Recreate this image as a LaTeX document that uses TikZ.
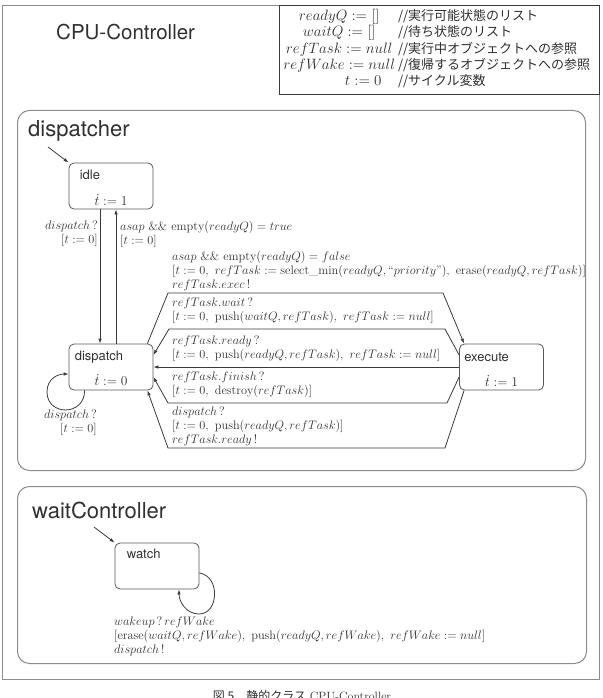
\RequirePackage{fix-cm}
\documentclass[tikz,border=0pt]{standalone}
\usepackage{fontspec}
\setsansfont{TeX Gyre Heros}
\newfontfamily\jpfont{Noto Sans CJK JP}
\usetikzlibrary{arrows.meta,positioning,calc}
\definecolor{scLine}{HTML}{3A3A3A}
\definecolor{scFrame}{HTML}{8C8C8C}
\definecolor{scText}{HTML}{303030}
\tikzset{
  zonebox/.style={draw=scFrame, line width=1pt, rounded corners=12pt, anchor=north west, inner sep=0pt},
  locbox/.style={draw=scLine!85, line width=0.8pt, rounded corners=5pt, minimum width=84pt, minimum height=46pt, inner sep=0pt},
  locname/.style={font=\sffamily\fontsize{13}{15}\selectfont, text=scText, anchor=west, inner sep=0pt},
  locrate/.style={font=\fontsize{13.5}{15}\selectfont, text=scText, inner sep=0pt},
  zonetitle/.style={font=\sffamily\fontsize{22}{24}\selectfont, text=scText, anchor=west, inner sep=0pt},
  guardtxt/.style={font=\fontsize{12.3}{14}\selectfont, text=scText, align=left, inner sep=0pt},
  trans/.style={-{Latex[length=5pt,width=3.5pt]}, draw=scLine, line width=0.8pt},
}
\newcommand{\jpnote}[1]{{\jpfont\fontsize{13}{16.3}\selectfont #1}}
\begin{document}
\begin{tikzpicture}[x=1pt, y=1pt]
  \useasboundingbox (0,0) rectangle (602,-698);
  % outer class frame
  \node[draw=scFrame, line width=1.2pt, anchor=north west, inner sep=0pt, minimum width=597pt, minimum height=674pt] (cpuctrl) at (2,-5) {};
  \node[zonetitle, font=\sffamily\fontsize{20.5}{24}\selectfont] (cputitle) at (56,-32) {CPU-Controller};
  % variables
  \node[draw=scLine, line width=1pt, anchor=north east, inner sep=0pt, minimum width=320pt, minimum height=89pt] (varframe) at (cpuctrl.north east) {};
  \node[anchor=west, inner sep=0pt, text=scText, font=\fontsize{15}{16.3}\selectfont] (vartable) at ([xshift=4pt]varframe.west) {%
    \begin{tabular}{@{}c@{\hspace{3pt}}l@{}}
      $readyQ := []$ & \jpnote{//実行可能状態のリスト}\\
      $waitQ := []$ & \jpnote{//待ち状態のリスト}\\
      $refTask := null$ & \jpnote{//実行中オブジェクトへの参照}\\
      $refWake := null$ & \jpnote{//復帰するオブジェクトへの参照}\\
      \hspace*{48pt}$t := 0$ & \jpnote{//サイクル変数}
    \end{tabular}};

  % dispatcher
  \node[zonebox, minimum width=568pt, minimum height=360pt] (dispatcher) at (17,-110) {};
  \node[zonetitle] (disptitle) at ([shift={(11,-21)}]dispatcher.north west) {dispatcher};
  \node[locbox] (idle) at (111,-186) {};
  \node[locname] at ([shift={(11,11)}]idle.west) {idle};
  \node[locrate] at ([yshift=-14pt]idle.center) {$\dot{t} := 1$};
  \node[locbox] (dispatch) at (111,-367) {};
  \node[locname] at ([shift={(6,10)}]dispatch.west) {dispatch};
  \node[locrate] at ([yshift=-13pt]dispatch.center) {$\dot{t} := 0$};
  \node[locbox] (execute) at (501.5,-367) {};
  \node[locname] at ([shift={(5,10)}]execute.west) {execute};
  \node[locrate] at ([yshift=-14pt]execute.center) {$\dot{t} := 1$};

  \coordinate (idleinit) at (48,-147);
  \draw[trans] (idleinit) -- (idle.north west);
  \draw[trans] ([xshift=-11pt]idle.south) -- ([xshift=-11pt]dispatch.north);
  \draw[trans] ([xshift=5pt]dispatch.north) -- ([xshift=5pt]idle.south);
  \node[guardtxt, anchor=north east, align=right] (lbldisp) at (98,-221) {$dispatch\,?$\\$[t := 0]$};
  \node[guardtxt, anchor=north west] (lblempty) at (120,-221) {$asap\ \&\&\ \mathrm{empty}(readyQ) = true$\\$[t := 0]$};

  \draw[trans] ([xshift=16pt]dispatch.south west) .. controls +(0,-26) and +(0,-24) .. (47,-392)
    .. controls +(0,14) and +(-10,0) .. ([yshift=-7pt]dispatch.west);
  \node[guardtxt, anchor=north east, align=right] (lblloop) at (97,-410) {$dispatch\,?$\\$[t := 0]$};

  \draw[trans] ([xshift=-6pt]dispatch.north east) -- (168,-293) -- (443,-293) -- ([xshift=5pt]execute.north west);
  \node[guardtxt, anchor=north west] (lblexec) at (172,-251) {$asap\ \&\&\ \mathrm{empty}(readyQ) = false$\\
    $[t := 0,\ refTask := \mathrm{select\_min}(readyQ, \mbox{``}priority\mbox{''}),\ \mathrm{erase}(readyQ, refTask)]$\\
    $refTask.exec\,!$};
  \draw[trans] ([yshift=12pt]execute.west) -- (445,-329) -- (169,-329) -- ([yshift=12pt]dispatch.east);
  \node[guardtxt, anchor=north west] (lblwait) at (172,-298) {$refTask.wait\,?$\\
    $[t := 0,\ \mathrm{push}(waitQ, refTask),\ refTask := null]$};
  \draw[trans] (execute.west) -- (dispatch.east);
  \node[guardtxt, anchor=north west] (lblready) at (172,-336) {$refTask.ready\,?$\\
    $[t := 0,\ \mathrm{push}(readyQ, refTask),\ refTask := null]$};
  \draw[trans] ([yshift=-10pt]execute.west) -- (447,-403) -- (168,-403) -- ([yshift=-10pt]dispatch.east);
  \node[guardtxt, anchor=north west] (lblfinish) at (172,-372) {$refTask.finish\,?$\\
    $[t := 0,\ \mathrm{destroy}(refTask)]$};
  \draw[trans] ([xshift=5pt]execute.south west) -- (445,-448) -- (168,-448) -- ([xshift=-6pt]dispatch.south east);
  \node[guardtxt, anchor=north west] (lblresched) at (172,-407) {$dispatch\,?$\\
    $[t := 0,\ \mathrm{push}(readyQ, refTask)]$\\$refTask.ready\,!$};

  % waitController
  \node[zonebox, minimum width=569pt, minimum height=177pt] (waitctrl) at (17,-486) {};
  \node[zonetitle] (waittitle) at ([shift={(15,-24)}]waitctrl.north west) {waitController};
  \node[locbox] (watch) at (157,-566) {};
  \node[locname] at ([shift={(12,12)}]watch.west) {watch};
  \coordinate (watchinit) at (94,-527);
  \draw[trans] (watchinit) -- (watch.north west);
  \draw[trans] ([yshift=-7pt]watch.east) .. controls +(21,-3) and +(20,0) .. (199,-614)
    .. controls +(-13,0) and +(0,-12) .. ([xshift=22pt]watch.south);
  \node[guardtxt, anchor=north west] (lblwake) at (114,-617) {$wakeup\,?\,refWake$\\
    $[\mathrm{erase}(waitQ, refWake),\ \mathrm{push}(readyQ, refWake),\ refWake := null]$\\
    $dispatch\,!$};

  % caption (cut by the page edge)
  \node[anchor=north, inner sep=0pt, text=scText, font=\fontsize{12}{14}\selectfont] (caption) at (302,-690) {{\jpfont 図 5\quad 静的クラス} CPU-Controller};
\end{tikzpicture}
\end{document}
